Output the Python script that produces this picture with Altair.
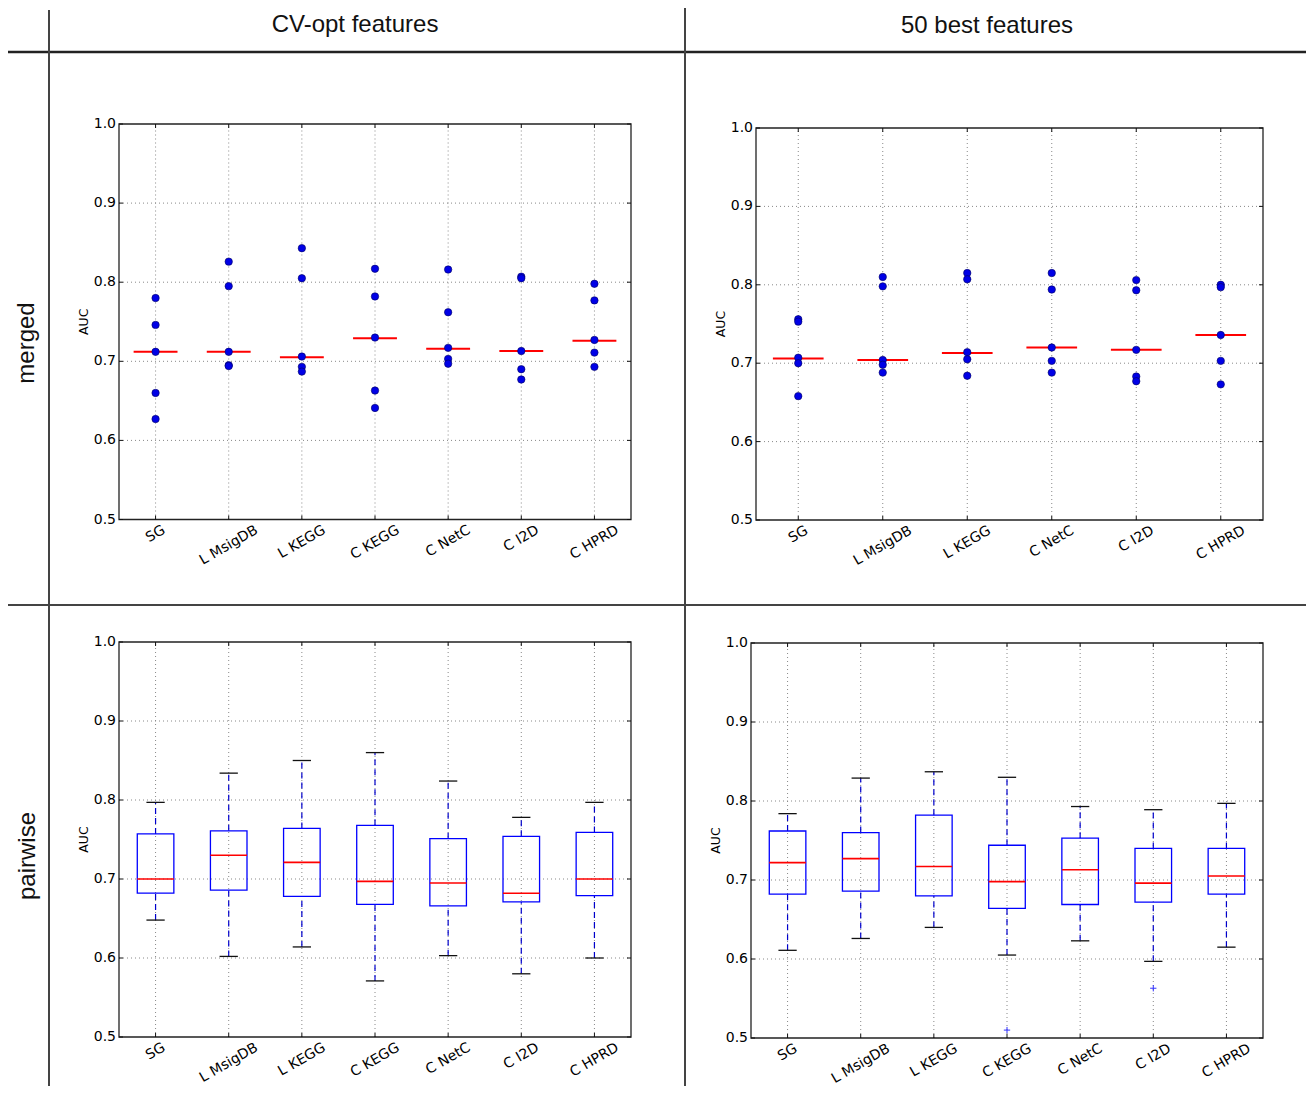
import altair as alt
import pandas as pd

# ---------------- data ----------------
cats7 = ["SG", "L MsigDB", "L KEGG", "C KEGG", "C NetC", "C I2D", "C HPRD"]
cats6 = ["SG", "L MsigDB", "L KEGG", "C NetC", "C I2D", "C HPRD"]

# merged / CV-opt features : AUC of each run (dots) and median line
tl_values = [
    [0.780, 0.746, 0.712, 0.660, 0.627],
    [0.826, 0.795, 0.712, 0.695, 0.694],
    [0.843, 0.805, 0.706, 0.693, 0.687],
    [0.817, 0.782, 0.730, 0.663, 0.641],
    [0.816, 0.762, 0.717, 0.703, 0.697],
    [0.807, 0.805, 0.713, 0.690, 0.677],
    [0.798, 0.777, 0.727, 0.711, 0.693],
]
tl_median = [0.712, 0.712, 0.705, 0.729, 0.716, 0.713, 0.726]

# merged / 50 best features
tr_values = [
    [0.756, 0.753, 0.707, 0.700, 0.658],
    [0.810, 0.798, 0.704, 0.698, 0.688],
    [0.815, 0.807, 0.714, 0.705, 0.684],
    [0.815, 0.794, 0.720, 0.703, 0.688],
    [0.806, 0.793, 0.717, 0.683, 0.677],
    [0.800, 0.797, 0.736, 0.703, 0.673],
]
tr_median = [0.706, 0.704, 0.713, 0.720, 0.717, 0.736]

# pairwise / CV-opt features : box plot statistics
bl_low = [0.648, 0.602, 0.614, 0.571, 0.603, 0.580, 0.600]
bl_q1 = [0.682, 0.686, 0.678, 0.668, 0.666, 0.671, 0.679]
bl_med = [0.700, 0.730, 0.721, 0.697, 0.695, 0.682, 0.700]
bl_q3 = [0.757, 0.761, 0.764, 0.768, 0.751, 0.754, 0.759]
bl_high = [0.797, 0.834, 0.850, 0.860, 0.824, 0.778, 0.797]

# pairwise / 50 best features
br_low = [0.611, 0.626, 0.640, 0.605, 0.623, 0.597, 0.615]
br_q1 = [0.682, 0.686, 0.680, 0.664, 0.669, 0.672, 0.682]
br_med = [0.722, 0.727, 0.717, 0.698, 0.713, 0.696, 0.705]
br_q3 = [0.762, 0.760, 0.782, 0.744, 0.753, 0.740, 0.740]
br_high = [0.784, 0.829, 0.837, 0.830, 0.793, 0.789, 0.797]
br_outlier_cat = ["C KEGG", "C I2D"]
br_outlier_val = [0.510, 0.563]

y_ticks = [0.5, 0.6, 0.7, 0.8, 0.9, 1.0]

# ---------------- styling helpers ----------------
TICK_FONT = "DejaVu Sans"
TICK_SIZE = 14
CHAR_W = {"S": .635, "G": .775, "L": .557, " ": .318, "M": .863, "s": .521, "i": .278,
          "g": .635, "D": .770, "B": .686, "K": .656, "E": .632, "C": .698, "N": .748,
          "e": .615, "t": .392, "I": .295, "2": .636, "H": .752, "P": .603, "R": .695}


def label_offset(txt):
    w = sum(CHAR_W.get(c, 0.6) for c in txt) * TICK_SIZE
    return 3 + (w * 0.5 + TICK_SIZE * 0.95) / 2


def panel_base(cats, xr, yr):
    n = len(cats)
    xs = alt.Scale(domain=[0.5, n + 0.5], range=xr, nice=False, zero=False)
    ys = alt.Scale(domain=[0.5, 1.0], range=yr, nice=False, zero=False)

    def X(f):
        return alt.X(f, type="quantitative", scale=xs, axis=None)

    def Y(f):
        return alt.Y(f, type="quantitative", scale=ys, axis=None)

    layers = []
    # vertical grid lines
    vg = pd.DataFrame({"pos": list(range(1, n + 1)), "lo": 0.5, "hi": 1.0})
    layers.append(alt.Chart(vg).mark_rule(color="#888888", strokeWidth=1, strokeDash=[1, 3]).encode(
        x=X("pos"), y=Y("lo"), y2="hi"))
    # horizontal grid lines
    hg = pd.DataFrame({"v": [0.6, 0.7, 0.8, 0.9], "lo": 0.5, "hi": n + 0.5})
    layers.append(alt.Chart(hg).mark_rule(color="#888888", strokeWidth=1, strokeDash=[1, 3]).encode(
        y=Y("v"), x=X("lo"), x2="hi"))
    # frame
    fr = pd.DataFrame({"x0": [0.5], "x1": [n + 0.5], "y0": [0.5], "y1": [1.0]})
    layers.append(alt.Chart(fr).mark_rect(fillOpacity=0, stroke="#222222", strokeWidth=1.3).encode(
        x=X("x0"), x2="x1", y=Y("y0"), y2="y1"))
    # inward tick marks on the four sides
    tk_x = pd.DataFrame({"pos": list(range(1, n + 1)), "lo": 0.5, "hi": 1.0})
    tk_y = pd.DataFrame({"v": y_ticks, "lo": 0.5, "hi": n + 0.5})
    tick_style = dict(size=64, filled=False, color="#111111", strokeWidth=1, opacity=1)
    layers.append(alt.Chart(tk_x).mark_point(shape="M0,0L0,-1", **tick_style).encode(
        x=X("pos"), y=Y("lo")))
    layers.append(alt.Chart(tk_x).mark_point(shape="M0,0L0,1", **tick_style).encode(
        x=X("pos"), y=Y("hi")))
    layers.append(alt.Chart(tk_y).mark_point(shape="M0,0L1,0", **tick_style).encode(
        x=X("lo"), y=Y("v")))
    layers.append(alt.Chart(tk_y).mark_point(shape="M0,0L-1,0", **tick_style).encode(
        x=X("hi"), y=Y("v")))
    # y tick labels
    yt = pd.DataFrame({"v": y_ticks, "t": [f"{v:.1f}" for v in y_ticks], "xp": 0.5})
    layers.append(alt.Chart(yt).mark_text(align="right", baseline="middle", dx=-3, font=TICK_FONT,
                                          fontSize=TICK_SIZE, color="#000000").encode(
        x=X("xp"), y=Y("v"), text="t:N"))
    # x tick labels (rotated, centred under each tick)
    for i, c in enumerate(cats):
        s = label_offset(c)
        xt = pd.DataFrame({"pos": [i + 1], "t": [c], "yp": [0.5]})
        layers.append(alt.Chart(xt).mark_text(align="center", baseline="middle", angle=330,
                                              dx=-0.5 * s, dy=0.866 * s, font=TICK_FONT,
                                              fontSize=TICK_SIZE, color="#000000").encode(
            x=X("pos"), y=Y("yp"), text="t:N"))
    # axis title
    at = pd.DataFrame({"xp": [0.5], "yp": [0.75], "t": ["AUC"]})
    layers.append(alt.Chart(at).mark_text(angle=270, align="center", baseline="middle", dy=-35,
                                          font=TICK_FONT, fontSize=12.5, color="#000000").encode(
        x=X("xp"), y=Y("yp"), text="t:N"))
    return layers, X, Y


def dot_panel(cats, values, medians, xr, yr):
    layers, X, Y = panel_base(cats, xr, yr)
    rows = []
    for i, (c, vals) in enumerate(zip(cats, values)):
        for v in vals:
            rows.append({"pos": i + 1, "cat": c, "auc": v})
    dots = pd.DataFrame(rows)
    med = pd.DataFrame({"pos": list(range(1, len(cats) + 1)), "med": medians})
    med["a"] = med["pos"] - 0.3
    med["b"] = med["pos"] + 0.3
    layers.append(alt.Chart(med).mark_rule(color="#ff0000", strokeWidth=2).encode(
        x=X("a"), x2="b", y=Y("med")))
    layers.append(alt.Chart(dots).mark_circle(size=55, color="#0000e6", opacity=1,
                                              stroke="#000060", strokeWidth=0.6).encode(
        x=X("pos"), y=Y("auc")))
    return alt.layer(*layers)


def box_panel(cats, low, q1, med, q3, high, xr, yr, out_cat=None, out_val=None):
    layers, X, Y = panel_base(cats, xr, yr)
    n = len(cats)
    d = pd.DataFrame({"pos": list(range(1, n + 1)), "low": low, "q1": q1, "med": med,
                      "q3": q3, "high": high})
    d["a"] = d["pos"] - 0.25
    d["b"] = d["pos"] + 0.25
    d["ca"] = d["pos"] - 0.125
    d["cb"] = d["pos"] + 0.125
    base = alt.Chart(d)
    layers.append(base.mark_rule(color="#0000cc", strokeWidth=1.2, strokeDash=[6, 4]).encode(
        x=X("pos"), y=Y("q3"), y2="high"))
    layers.append(base.mark_rule(color="#0000cc", strokeWidth=1.2, strokeDash=[6, 4]).encode(
        x=X("pos"), y=Y("low"), y2="q1"))
    layers.append(base.mark_rule(color="#111111", strokeWidth=1.3).encode(
        x=X("ca"), x2="cb", y=Y("high")))
    layers.append(base.mark_rule(color="#111111", strokeWidth=1.3).encode(
        x=X("ca"), x2="cb", y=Y("low")))
    layers.append(base.mark_rect(fillOpacity=0, stroke="#0000ff", strokeWidth=1.3).encode(
        x=X("a"), x2="b", y=Y("q1"), y2="q3"))
    layers.append(base.mark_rule(color="#ff0000", strokeWidth=1.6).encode(
        x=X("a"), x2="b", y=Y("med")))
    if out_cat:
        o = pd.DataFrame({"pos": [cats.index(c) + 1 for c in out_cat], "v": out_val})
        layers.append(alt.Chart(o).mark_point(shape="M-1,0L1,0M0,-1L0,1", size=40, filled=False,
                                              color="#3333ff", strokeWidth=1, opacity=1).encode(
            x=X("pos"), y=Y("v")))
    return alt.layer(*layers)


one = pd.DataFrame({"k": [0]})


def hline(y, x0, x1, w, col):
    return alt.Chart(one).mark_rule(color=col, strokeWidth=w).encode(
        x=alt.value(x0), x2=alt.value(x1), y=alt.value(y))


def vline(x, y0, y1, w, col):
    return alt.Chart(one).mark_rule(color=col, strokeWidth=w).encode(
        x=alt.value(x), y=alt.value(y0), y2=alt.value(y1))


def label(txt, x, y, angle=0, size=24):
    return alt.Chart(one).mark_text(text=txt, font="Liberation Sans", fontSize=size, angle=angle,
                                    align="center", baseline="middle", color="#111111").encode(
        x=alt.value(x), y=alt.value(y))


decor = [
    hline(44, 0, 1298, 2.5, "#222222"),
    hline(597, 0, 1298, 2, "#444444"),
    vline(41, 2, 1078, 2, "#444444"),
    vline(677, 0, 1078, 2, "#444444"),
    label("CV-opt features", 347, 17),
    label("50 best features", 979, 18),
    label("merged", 19, 335, angle=270),
    label("pairwise", 20, 848, angle=270),
]

tl = dot_panel(cats7, tl_values, tl_median, [111, 623], [511.5, 116])
tr = dot_panel(cats6, tr_values, tr_median, [748, 1255], [512, 120])
bl = box_panel(cats7, bl_low, bl_q1, bl_med, bl_q3, bl_high, [111, 623], [1029, 634])
br = box_panel(cats7, br_low, br_q1, br_med, br_q3, br_high, [743, 1255], [1030, 635],
               br_outlier_cat, br_outlier_val)

chart = alt.layer(*decor, tl, tr, bl, br).resolve_scale(
    x="independent", y="independent"
).properties(
    width=1298, height=1078, padding=0,
    autosize=alt.AutoSizeParams(type="none"),
    background="white",
).configure_view(strokeWidth=0)

chart.save("out.html", embed_options={"renderer": "svg", "actions": False})
